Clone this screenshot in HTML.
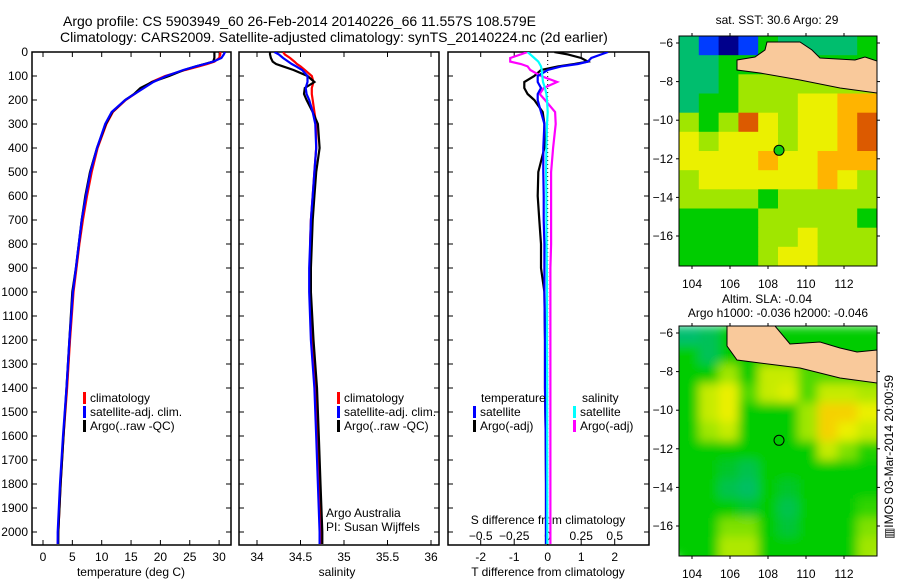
<!DOCTYPE html>
<html><head><meta charset="utf-8"><style>
html,body{margin:0;padding:0;background:#fff;}
svg{display:block;font-family:"Liberation Sans",sans-serif;}
text{font-size:12px;fill:#000;}
</style></head><body>
<svg id="chart" width="900" height="580" viewBox="0 0 900 580" xmlns="http://www.w3.org/2000/svg">
<defs>
<clipPath id="c1"><rect x="32" y="52" width="199" height="493"/></clipPath>
<clipPath id="c2"><rect x="239" y="52" width="200" height="493"/></clipPath>
<clipPath id="c3"><rect x="448" y="52" width="201" height="493"/></clipPath>
<clipPath id="m1"><rect x="679" y="36" width="198" height="230"/></clipPath>
<clipPath id="m2"><rect x="679" y="326" width="198" height="230"/></clipPath>
<filter id="blur"><feGaussianBlur stdDeviation="5"/></filter>
</defs>
<text x="63" y="26" style="font-size:14px">Argo profile: CS 5903949_60 26-Feb-2014 20140226_66 11.557S 108.579E</text>
<text x="60" y="42" style="font-size:14px">Climatology: CARS2009. Satellite-adjusted climatology: synTS_20140224.nc (2d earlier)</text>
<g id="g"></g>
</svg>
<script>
const depths=[0,10,25,40,50,60,75,100,125,150,175,200,250,300,400,500,600,700,800,900,1000,1200,1400,1600,1800,2000,2050];
const tempClim=[30.2,30.2,30.0,29.2,28.0,26.5,24.2,20.8,18.5,17.0,15.6,14.1,11.9,10.8,9.3,8.3,7.5,6.8,6.2,5.7,5.2,4.6,4.1,3.5,3.0,2.6,2.5];
const tempSat=[31.0,30.8,30.4,29.0,27.6,26.0,23.9,21.0,18.8,17.2,15.6,14.0,11.7,10.6,9.2,8.1,7.3,6.6,6.1,5.6,5.1,4.5,4.0,3.4,2.9,2.5,2.5];
const tempArgo=[29.2,29.2,29.2,29.0,27.5,26.0,24.0,21.5,18.6,16.6,15.5,14.0,11.8,10.7,9.2,8.0,7.2,6.6,6.1,5.6,5.0,4.5,4.0,3.5,3.0,2.6,2.6];
const salClim=[34.30,34.32,34.38,34.43,34.46,34.50,34.55,34.63,34.65,34.63,34.63,34.64,34.66,34.68,34.68,34.66,34.64,34.62,34.61,34.61,34.61,34.63,34.67,34.69,34.71,34.73,34.74];
const salSat=[34.20,34.25,34.30,34.36,34.40,34.45,34.52,34.58,34.58,34.56,34.57,34.60,34.64,34.67,34.68,34.66,34.64,34.62,34.61,34.60,34.60,34.62,34.66,34.68,34.70,34.72,34.72];
const salArgo=[34.15,34.15,34.16,34.18,34.22,34.30,34.42,34.58,34.66,34.55,34.54,34.57,34.64,34.70,34.72,34.68,34.66,34.64,34.63,34.62,34.62,34.65,34.69,34.71,34.73,34.75,34.75];
const tDiffSat=[1.8,1.6,1.3,1.2,0.9,0.4,0.0,-0.3,-0.3,-0.2,-0.3,-0.3,-0.2,-0.1,-0.13,-0.13,-0.12,-0.12,-0.1,-0.1,-0.1,-0.08,-0.08,-0.06,-0.05,-0.05,-0.05];
const tDiffArgo=[0.2,0.6,1.0,1.2,0.8,0.3,-0.2,-0.4,-0.7,-0.7,-0.6,-0.4,-0.15,-0.1,-0.1,-0.28,-0.3,-0.25,-0.2,-0.2,-0.1,-0.08,-0.08,-0.06,-0.05,-0.05,-0.05];
const sDiffSat=[-0.15,-0.13,-0.1,-0.07,-0.06,-0.05,-0.045,-0.04,-0.035,-0.02,-0.01,-0.005,0,-0.005,-0.01,-0.012,-0.01,-0.01,-0.008,-0.006,-0.005,-0.005,-0.004,-0.004,-0.003,-0.003,-0.003];
const sDiffArgo=[-0.15,-0.2,-0.28,-0.28,-0.2,-0.15,-0.13,-0.05,0.07,-0.03,-0.06,-0.02,0.055,0.06,0.04,0.025,0.025,0.025,0.025,0.02,0.02,0.02,0.02,0.02,0.02,0.02,0.02];
const depthTicks=[0,100,200,300,400,500,600,700,800,900,1000,1100,1200,1300,1400,1500,1600,1700,1800,1900,2000];
const tempTicks=[0,5,10,15,20,25,30];
const salTicks=[34,34.5,35,35.5,36];
const tDiffTicks=[-2,-1,0,1,2];
const sDiffTicks=[-0.5,-0.25,0,0.25,0.5];
const sDiffTickLabels=["\u22120.5","\u22120.25","0","0.25","0.5"];
const lonTicks=[104,106,108,110,112];
const latTicks=[-6,-8,-10,-12,-14,-16];
const argoLon=108.58, argoLat=-11.56;
const sstGrid=[
[4,1,0,1,5,4,4,4,4,5],
[4,4,5,5,5,4,5,5,5,5],
[4,4,5,6,6,6,6,6,6,6],
[4,5,5,6,6,6,7,7,8,8],
[6,5,6,9,7,6,7,7,8,9],
[7,6,7,7,7,6,7,7,8,9],
[7,7,7,7,8,7,7,8,8,8],
[6,7,7,7,7,7,7,8,7,6],
[6,6,6,6,5,6,6,6,6,6],
[5,5,5,5,6,6,6,6,6,5],
[5,5,5,5,6,6,7,6,6,6],
[5,5,5,5,6,7,7,6,6,6]];
const slaGrid=[
[4,4.2,5,5,5,5,5,5,5,5],
[5,4.2,5,5,5,5,5,5,5,5],
[5,5,6,5,6.5,6.5,5.5,5.5,5.5,5.5],
[5,6.5,7,5.5,6.5,6.8,5.5,6.5,6.5,6.2],
[5,6.5,7,5,5,5,6,7.5,7.5,7],
[5,6,6.5,5,5,5,6,7.5,7,6.5],
[5,5,5,5,5,5,5,6.5,5.8,5.2],
[5,5,4.6,4.3,5,5,5,5,5,5],
[5,5,4.3,4.1,5,4.6,5,5,5,5],
[5,5,5,4.6,5,4.3,5,5,5,5.3],
[5,5,5.8,5.8,5,4.5,5,5,5,5.8],
[5,5,6.2,6.2,5,5,5,5,5,6]];

const NS="http://www.w3.org/2000/svg";
const G=document.getElementById('g');
function el(tag,attrs,parent){const e=document.createElementNS(NS,tag);for(const k in attrs)e.setAttribute(k,attrs[k]);(parent||G).appendChild(e);return e;}
function txt(x,y,s,anchor,parent,size){const t=el('text',{x:x,y:y,'text-anchor':anchor||'start'},parent);if(size)t.style.fontSize=size+'px';t.textContent=s;return t;}
const yD=d=>52+d*0.24;
const xT=v=>43+v*5.87;
const xS=v=>257+(v-34)*87;
const xTD=v=>547.7+v*33.5;
const xSD=v=>547.7+v*134;

function panel(x0,x1,name){
  const r=el('rect',{x:x0,y:52,width:x1-x0,height:493,fill:'none',stroke:'#000','stroke-width':1.5});
  
  
  depthTicks.forEach(d=>{el('line',{x1:x0,x2:x0+5,y1:yD(d),y2:yD(d),stroke:'#000'});el('line',{x1:x1-5,x2:x1,y1:yD(d),y2:yD(d),stroke:'#000'});});
}
depthTicks.forEach(d=>{const t=txt(28,yD(d)+4,String(d),'end');

});
panel(32,231,'temperature-panel');
panel(239,439,'salinity-panel');
panel(448,649,'difference-panel');
function xticks(vals,fx,labels,ylab){vals.forEach((v,i)=>{const x=fx(v);el('line',{x1:x,x2:x,y1:52,y2:57,stroke:'#000'});el('line',{x1:x,x2:x,y1:540,y2:545,stroke:'#000'});
const t=txt(x,ylab,labels?labels[i]:String(v),'middle');

});}
xticks(tempTicks,xT,null,561);
xticks(salTicks,xS,null,561);
xticks(tDiffTicks,xTD,null,561);
sDiffTicks.forEach((v,i)=>{const t=txt(xSD(v),540,sDiffTickLabels[i],'middle');

});
let t;
t=txt(131,576,'temperature (deg C)','middle');


t=txt(337,576,'salinity','middle');


t=txt(548,576,'T difference from climatology','middle');


t=txt(548,524,'S difference from climatology','middle');


el('line',{x1:xTD(0),x2:xTD(0),y1:52,y2:545,stroke:'#000','stroke-dasharray':'1,3'});

function series(vals,fx,color,clip,name){
  const pts=vals.map((v,i)=>fx(v).toFixed(1)+','+yD(depths[i]).toFixed(1)).join(' ');
  const p=el('polyline',{points:pts,fill:'none',stroke:color,'stroke-width':2.2,'clip-path':'url(#'+clip+')'});
  
  
}
series(tempClim,xT,'#ff0000','c1','temp-climatology-line');
series(tempArgo,xT,'#000000','c1','temp-argo-line');
series(tempSat,xT,'#0000ff','c1','temp-satellite-line');
series(salClim,xS,'#ff0000','c2','sal-climatology-line');
series(salArgo,xS,'#000000','c2','sal-argo-line');
series(salSat,xS,'#0000ff','c2','sal-satellite-line');
series(tDiffArgo,xTD,'#000000','c3','tdiff-argo-line');
series(sDiffArgo,xSD,'#ff00ff','c3','sdiff-argo-line');
series(tDiffSat,xTD,'#0000ff','c3','tdiff-satellite-line');
series(sDiffSat,xSD,'#00ffff','c3','sdiff-satellite-line');

function legendItem(x,y,color,label,name){
  el('rect',{x:x,y:y-10,width:3,height:12,fill:color});
  const t=txt(x+7,y,label);
  
  
}
legendItem(83,402,'#ff0000','climatology','legend-climatology');
legendItem(83,416,'#0000ff','satellite-adj. clim.','legend-satellite-adj');
legendItem(83,430,'#000000','Argo(..raw -QC)','legend-argo');
legendItem(337,402,'#ff0000','climatology','legend-sal-climatology');
legendItem(337,416,'#0000ff','satellite-adj. clim.','legend-sal-satellite-adj');
legendItem(337,430,'#000000','Argo(..raw -QC)','legend-sal-argo');
t=txt(481,402,'temperature');
t=txt(582,402,'salinity');
legendItem(473,416,'#0000ff','satellite','legend-t-satellite');
legendItem(473,430,'#000000','Argo(-adj)','legend-t-argo');
legendItem(573,416,'#00ffff','satellite','legend-s-satellite');
legendItem(573,430,'#ff00ff','Argo(-adj)','legend-s-argo');
t=txt(326,517,'Argo Australia');
t=txt(326,531,'PI: Susan Wijffels');

const stops=[[0,[0,0,140]],[1,[0,60,255]],[2,[0,170,255]],[3,[0,200,200]],[4,[0,190,110]],[5,[0,204,0]],[6,[160,230,0]],[7,[235,240,0]],[8,[255,180,0]],[9,[220,90,0]],[10,[160,0,0]]];
function cmap(v){v=Math.max(0,Math.min(10,v));const i=Math.min(9,Math.floor(v));const f=v-i;const a=stops[i][1],b=stops[i+1][1];return 'rgb('+a.map((c,k)=>Math.round(c+(b[k]-c)*f)).join(',')+')';}
const lonX=lon=>692+(lon-104)*19;
function latY(lat,top){return top+7+(-6-lat)*19.3;}
const sstLand=[[737,24],[755,21],[765,14],[767,6],[800,6],[812,14],[820,22],[855,24],[865,21],[877,25],[877,57],[840,52],[800,44],[760,37],[737,34]];
const slaLand=[[727,0],[775,0],[790,18],[820,16],[840,22],[857,26],[877,24],[877,57],[840,52],[800,42],[760,37],[737,34],[727,20]];
function map(top,grid,clip,name,blur,land){
  const g=el('g',{'clip-path':'url(#'+clip+')'});
  
  
  const inner=el('g',blur?{filter:'url(#blur)'}:{},g);
  const cw=198/grid[0].length, ch=230/grid.length;
  grid.forEach((row,r)=>row.forEach((v,c)=>{
    el('rect',{x:(679+c*cw).toFixed(1),y:(top+r*ch).toFixed(1),width:(cw+0.5).toFixed(1),height:(ch+0.5).toFixed(1),fill:cmap(v)},inner);
  }));
  if(blur){
    grid.forEach((row,r)=>{el('rect',{x:876,y:(top+r*ch).toFixed(1),width:20,height:(ch+0.5).toFixed(1),fill:cmap(row[row.length-1])},inner);
    el('rect',{x:660,y:(top+r*ch).toFixed(1),width:20,height:(ch+0.5).toFixed(1),fill:cmap(row[0])},inner);});
    grid[grid.length-1].forEach((v,c)=>{el('rect',{x:(679+c*cw).toFixed(1),y:top+229,width:(cw+0.5).toFixed(1),height:20,fill:cmap(v)},inner);});
  }
  el('polygon',{points:land.map(p=>p[0]+','+(top+p[1])).join(' '),fill:'#f9c99b',stroke:'#000','stroke-width':1},g);
  el('rect',{x:679,y:top,width:198,height:230,fill:'none',stroke:'#000'});
  lonTicks.forEach(l=>{const x=lonX(l);el('line',{x1:x,x2:x,y1:top-3,y2:top,stroke:'#000'});el('line',{x1:x,x2:x,y1:top+230,y2:top+233,stroke:'#000'});
  const tl=txt(x,top+252,String(l),'middle');
  
  });
  latTicks.forEach(l=>{const y=latY(l,top);el('line',{x1:676,x2:679,y1:y,y2:y,stroke:'#000'});el('line',{x1:877,x2:880,y1:y,y2:y,stroke:'#000'});
  const tl=txt(673,y+4,String(l).replace('-','\u2212'),'end');
  
  });
  const m=el('circle',{cx:lonX(argoLon),cy:latY(argoLat,top),r:5,fill:blur?'none':'#11cc11',stroke:'#000'});
  
  
}
map(36,sstGrid,'m1','sst-map',false,sstLand);
map(326,slaGrid,'m2','sla-map',true,slaLand);
t=txt(777,24,'sat. SST: 30.6 Argo: 29','middle');
t=txt(767,303,'Altim. SLA: -0.04','middle');
t=txt(778,317,'Argo h1000: -0.036 h2000: -0.046','middle');
t=txt(0,0,'\u25A5IMOS 03-Mar-2014 20:00:59','middle');
t.setAttribute('transform','translate(893,457) rotate(-90)');


</script>
</body></html>
